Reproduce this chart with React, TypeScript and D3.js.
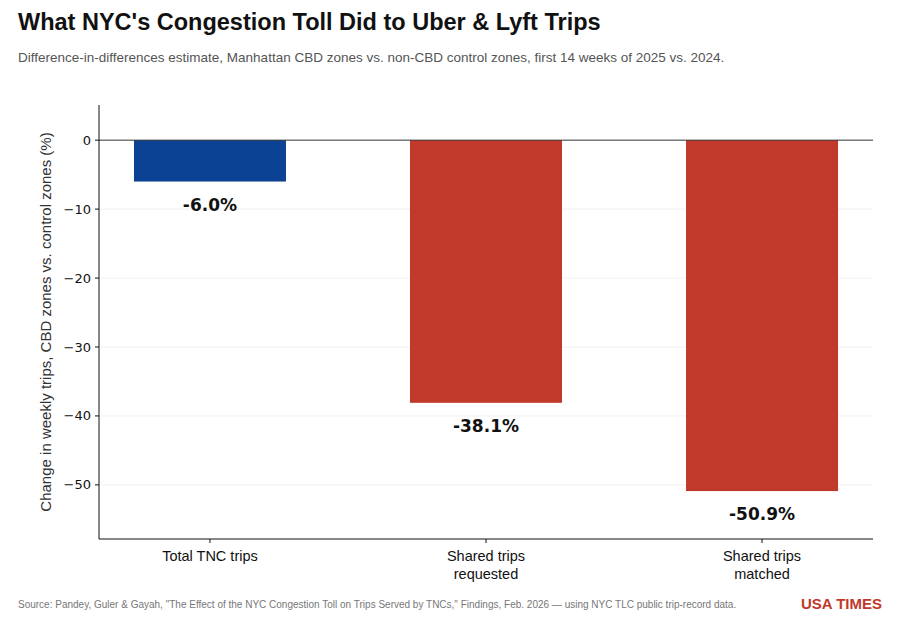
import React from "react";
import * as d3 from "d3";

const categories = ["Total TNC trips", "Shared trips\nrequested", "Shared trips\nmatched"];
const values = [-6.0, -38.1, -50.9];
const colors = ["#0c4293", "#c0392b", "#c0392b"];
const yTicks = [0, -10, -20, -30, -40, -50];

export default function App() {
  const W = 900, H = 620;
  const L = 99, R = 873, T = 105, B = 539;
  const y = d3.scaleLinear().domain([-57.85, 5.1]).range([B, T]);
  const x = d3.scalePoint<string>().domain(categories).range([L, R]).padding(0.402);
  const bw = 152;
  const font = "DejaVu Sans, sans-serif";
  const lib = "Liberation Sans, Arial, sans-serif";
  return (
    <svg width={W} height={H} style={{ position: "absolute", left: 0, top: 0, fontFamily: font }}>
      <rect width={W} height={H} fill="#fff" />
      <text x={18} y={30} fontSize={23.5} fontWeight="bold" fontFamily={lib} fill="#111">What NYC's Congestion Toll Did to Uber &amp; Lyft Trips</text>
      <text x={18} y={62} fontSize={13.5} fontFamily={lib} fill="#555">Difference-in-differences estimate, Manhattan CBD zones vs. non-CBD control zones, first 14 weeks of 2025 vs. 2024.</text>
      {yTicks.filter(t => t !== 0).map(t => (
        <line key={t} x1={L} x2={R} y1={y(t)} y2={y(t)} stroke="#eee" strokeWidth={0.8} />
      ))}
      {categories.map((c, i) => (
        <rect key={c} x={x(c)! - bw / 2} width={bw} y={y(0)} height={y(values[i]) - y(0)} fill={colors[i]} />
      ))}
      <line x1={L} x2={R} y1={y(0)} y2={y(0)} stroke="#333" strokeWidth={1} />
      <line x1={L} x2={L} y1={T} y2={B} stroke="#111" strokeWidth={1} />
      <line x1={L} x2={R} y1={B} y2={B} stroke="#111" strokeWidth={1} />
      {yTicks.map(t => (
        <g key={t}>
          <line x1={L - 4} x2={L} y1={y(t)} y2={y(t)} stroke="#111" />
          <text x={L - 8} y={y(t)} dy="0.35em" textAnchor="end" fontSize={13} fill="#111">{t < 0 ? "\u2212" + Math.abs(t) : t}</text>
        </g>
      ))}
      {categories.map((c, i) => (
        <g key={c}>
          <line x1={x(c)} x2={x(c)} y1={B} y2={B + 4} stroke="#111" />
          {c.split("\n").map((ln, j) => (
            <text key={j} x={x(c)} y={B + 22 + j * 18} textAnchor="middle" fontSize={14.5} fontFamily={lib} fill="#111">{ln}</text>
          ))}
          <text x={x(c)} y={y(values[i]) + 29} textAnchor="middle" fontSize={17} fontWeight="bold" fill="#111">{values[i].toFixed(1)}%</text>
        </g>
      ))}
      <text transform={`translate(51,${(T + B) / 2}) rotate(-90)`} textAnchor="middle" fontSize={15} fontFamily={lib} fill="#333">Change in weekly trips, CBD zones vs. control zones (%)</text>
      <text x={18} y={608} fontSize={10} fontFamily={lib} fill="#777">Source: Pandey, Guler &amp; Gayah, "The Effect of the NYC Congestion Toll on Trips Served by TNCs," Findings, Feb. 2026 — using NYC TLC public trip-record data.</text>
      <text x={882} y={609} textAnchor="end" fontSize={15} fontWeight="bold" fontFamily={lib} fill="#c0392b">USA TIMES</text>
    </svg>
  );
}
